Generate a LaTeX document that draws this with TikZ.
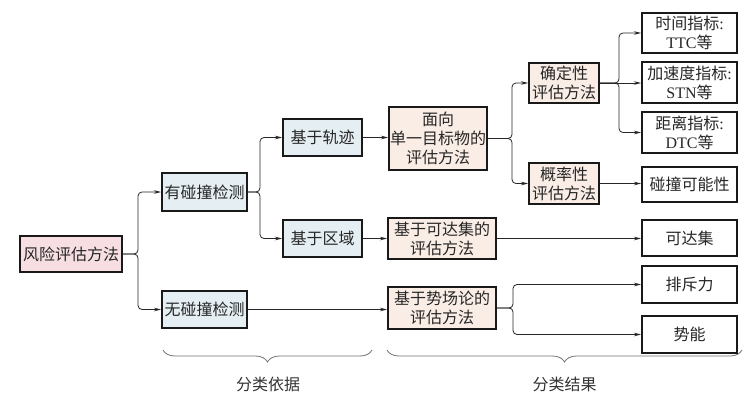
\documentclass[tikz,border=0pt]{standalone}
\usepackage{fontspec}
\setmainfont{Liberation Serif}
\newfontfamily\cjk{Noto Sans CJK SC}
\usetikzlibrary{arrows.meta,decorations.pathreplacing}
\definecolor{rootfill}{HTML}{F6DEE2}
\definecolor{detfill}{HTML}{E5EEF2}
\definecolor{methfill}{HTML}{F9EDE6}
\newcommand{\lat}[1]{{\rmfamily #1}}
\begin{document}
\begin{tikzpicture}[x=1pt,y=-1pt,
  bx/.style={draw=black!90, line width=2pt, inner sep=0pt, align=center,
    font=\cjk\fontsize{16}{19}\selectfont, text=black!85},
  rootbox/.style={bx, fill=rootfill},
  detbox/.style={bx, fill=detfill},
  methbox/.style={bx, fill=methfill},
  leafbox/.style={bx, fill=white},
  conn/.style={draw=black!85, line width=0.8pt, rounded corners=4pt,
    -{Stealth[length=7pt,width=3.5pt]}},
  bracestyle/.style={draw=black!55, line width=0.8pt,
    decorate, decoration={brace, mirror, amplitude=12pt}},
  lbl/.style={font=\cjk\fontsize{16}{19}\selectfont, text=black!80}]
\useasboundingbox (0,0) rectangle (751,401);
\fill[white] (0,0) rectangle (751,401);

\node[rootbox, minimum width=102, minimum height=36] (root) at (71,254) {风险评估方法};
\node[detbox, minimum width=85, minimum height=38] (det1) at (204.5,192) {有碰撞检测};
\node[detbox, minimum width=85, minimum height=37] (det2) at (204.5,309.5) {无碰撞检测};
\node[detbox, minimum width=79, minimum height=37] (traj) at (322.5,137.5) {基于轨迹};
\node[detbox, minimum width=79, minimum height=37] (region) at (322.5,238.5) {基于区域};
\node[methbox, minimum width=98, minimum height=63] (single) at (438,138.5) {面向\\单一目标物的\\评估方法};
\node[methbox, minimum width=108, minimum height=41] (reach) at (442,238.5) {基于可达集的\\评估方法};
\node[methbox, minimum width=108, minimum height=42] (field) at (442,308) {基于势场论的\\评估方法};
\node[methbox, minimum width=70, minimum height=40] (determ) at (564,83) {确定性\\评估方法};
\node[methbox, minimum width=70, minimum height=41] (prob) at (564,183.5) {概率性\\评估方法};
\node[leafbox, minimum width=95, minimum height=40] (ttc) at (689.5,33) {时间指标\lat{:}\\\lat{TTC}等};
\node[leafbox, minimum width=95, minimum height=41] (stn) at (689.5,82.5) {加速度指标\lat{:}\\\lat{STN}等};
\node[leafbox, minimum width=95, minimum height=41] (dtc) at (689.5,132.5) {距离指标\lat{:}\\\lat{DTC}等};
\node[leafbox, minimum width=95, minimum height=35] (poss) at (689.5,184.5) {碰撞可能性};
\node[leafbox, minimum width=95, minimum height=36] (rset) at (689.5,238) {可达集};
\node[leafbox, minimum width=95, minimum height=37] (rep) at (689.5,284.5) {排斥力};
\node[leafbox, minimum width=95, minimum height=37] (pot) at (689.5,334.5) {势能};

% connectors
\draw[conn] (root.east) -- ++(15,0) |- (det1.west);
\draw[conn] (root.east) -- ++(15,0) |- (det2.west);
\draw[conn] (det1.east) -- ++(12,0) |- (traj.west);
\draw[conn] (det1.east) -- ++(12,0) |- (region.west);
\draw[conn] (traj.east) -- (traj.east -| single.west);
\draw[conn] (region.east) -- (region.east -| reach.west);
\draw[conn] (det2.east) -- (det2.east -| field.west);
\draw[conn] (single.east) -- ++(24,0) |- (determ.west);
\draw[conn] (single.east) -- ++(24,0) |- (prob.west);
\draw[conn] (determ.east) -- ++(19,0) |- (ttc.west);
\draw[conn] (determ.east) -- (determ.east -| stn.west);
\draw[conn] (determ.east) -- ++(19,0) |- (dtc.west);
\draw[conn] (prob.east) -- (prob.east -| poss.west);
\draw[conn] (reach.east) -- (reach.east -| rset.west);
\draw[conn] (field.east) -- ++(16,0) |- (rep.west);
\draw[conn] (field.east) -- ++(16,0) |- (pot.west);

% braces
\coordinate (b1l) at (163,350);
\coordinate (b1r) at (372,350);
\coordinate (b2l) at (387,350);
\coordinate (b2r) at (742,350);
\draw[bracestyle] (b1l) -- (b1r);
\draw[bracestyle] (b2l) -- (b2r);
\node[lbl] (l1) at (268,384) {分类依据};
\node[lbl] (l2) at (564.5,384) {分类结果};
\end{tikzpicture}
\end{document}
